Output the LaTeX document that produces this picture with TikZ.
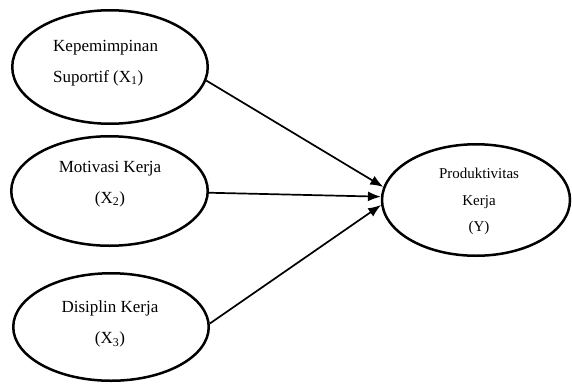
\documentclass[tikz,border=0pt]{standalone}
\usepackage{fontspec}
\setmainfont{Liberation Serif}
\usetikzlibrary{shapes.geometric,arrows.meta}
\begin{document}
\begin{tikzpicture}[x=1pt,y=-1pt,
                var/.style={ellipse,draw=black,line width=2.5pt,
                inner sep=0pt},
                txt/.style={inner sep=0pt,align=center,
                font=\fontsize{17}{31}\selectfont},
                arr/.style={-{Latex[length=13pt,width=10pt]},line width=1.7pt}]
                \useasboundingbox (0,0) rectangle (572,383);
                \node (x1) at (110,67) [var,minimum width=195.5pt,minimum height=113.5pt] {};
                \node (x2) at (109.5,191) [var,minimum width=196.5pt,minimum height=109.5pt] {};
                \node (x3) at (111,327) [var,minimum width=195.5pt,minimum height=107.5pt] {};
                \node (y) at (476,200) [var,minimum width=188pt,minimum height=111.5pt] {};
                \node (x1t) at (53,63) [txt,align=left,anchor=west] {Kepemimpinan\\Suportif (X\textsubscript{1})};
                \node (x2t) at (110,184) [txt] {Motivasi Kerja\\(X\textsubscript{2})};
                \node (x3t) at (110,324) [txt] {Disiplin Kerja\\(X\textsubscript{3})};
                \node (yt) at (479,201.5) [txt,font=\fontsize{15}{26.5}\selectfont] {Produktivitas\\Kerja\\(Y)};
                \draw (x1.-8) edge[arr] (y.172);
                \draw (x2.-1) edge[arr] (y.178);
                \draw (x3.2.5) edge[arr] (y.183);
            \end{tikzpicture}
\end{document}
